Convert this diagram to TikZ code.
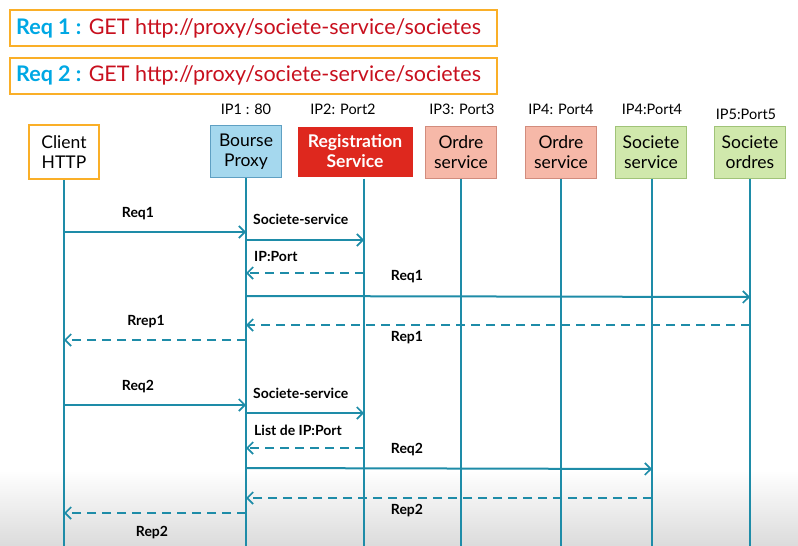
\documentclass[tikz,border=0pt]{standalone}
\usepackage{fontspec}
\setmainfont{Lato}
\usetikzlibrary{arrows.meta}
\definecolor{lifec}{RGB}{30,140,168}
\definecolor{reqcyan}{RGB}{0,168,228}
\definecolor{reqred}{RGB}{200,16,30}
\definecolor{orangeb}{RGB}{250,175,40}
\definecolor{bluef}{RGB}{165,216,238}
\definecolor{blued}{RGB}{95,160,195}
\definecolor{redf}{RGB}{222,40,30}
\definecolor{salmonf}{RGB}{246,184,168}
\definecolor{salmond}{RGB}{210,140,125}
\definecolor{greenf}{RGB}{208,232,172}
\definecolor{greend}{RGB}{160,195,120}
\begin{document}
\begin{tikzpicture}[x=1pt,y=-1pt,
  reqbox/.style={draw=orangeb,line width=2pt,minimum width=487pt,minimum height=36pt,inner sep=0pt},
  reqtext/.style={anchor=west,font=\fontsize{21.5}{21.5}\selectfont,inner sep=0pt},
  actor/.style={draw,line width=1pt,minimum width=71pt,minimum height=52pt,align=center,font=\fontsize{17.5}{20}\selectfont,inner sep=0pt},
  iplabel/.style={font=\fontsize{14.5}{14.5}\selectfont,inner sep=0pt},
  life/.style={draw=lifec,line width=2pt},
  msg/.style={draw=lifec,line width=2pt,-{Straight Barb[length=6pt,width=12pt,line width=1.7pt]}},
  ret/.style={msg,dash pattern=on 9pt off 6pt},
  mlabel/.style={font=\bfseries\fontsize{14}{14}\selectfont,inner sep=0pt},
  llabel/.style={mlabel,anchor=west}]
\useasboundingbox (0,0) rectangle (798,546);
\shade[top color=white,bottom color=black!14] (0,470) rectangle (798,546);

% request boxes
\node[reqbox] (rb1) at (253.5,28) {};
\node[reqtext] (rt1) at ([xshift=7pt]rb1.west) {\textcolor{reqcyan}{\bfseries Req 1 :} \textcolor{reqred}{GET http://proxy/societe-service/societes}};
\node[reqbox] (rb2) at (253.5,75.5) {};
\node[reqtext] (rt2) at ([xshift=7pt]rb2.west) {\textcolor{reqcyan}{\bfseries Req 2 :} \textcolor{reqred}{GET http://proxy/societe-service/societes}};

% actors
\node[actor,draw=orangeb,line width=2pt,minimum width=70pt,minimum height=54pt] (client) at (64,152) {Client\\HTTP};
\node[actor,draw=blued,fill=bluef] (proxy) at (246,151.5) {Bourse\\Proxy};
\node[actor,draw=white,line width=2pt,fill=redf,text=white,minimum width=117pt,font=\bfseries\fontsize{17.5}{20}\selectfont] (reg) at (355,151.5) {Registration\\Service};
\node[actor,draw=salmond,fill=salmonf] (ord1) at (461,152) {Ordre\\service};
\node[actor,draw=salmond,fill=salmonf] (ord2) at (561,152) {Ordre\\service};
\node[actor,draw=greend,fill=greenf] (soc1) at (651,152) {Societe\\service};
\node[actor,draw=greend,fill=greenf] (soc2) at (750,152) {Societe\\ordres};

% ip labels
\node[iplabel] (ip1) at (246,109) {IP1 : 80};
\node[iplabel] (ip2) at (343,109) {IP2: Port2};
\node[iplabel] (ip3) at (462,109) {IP3: Port3};
\node[iplabel] (ip4) at (561,109) {IP4: Port4};
\node[iplabel] (ip5) at (652,109) {IP4:Port4};
\node[iplabel] (ip6) at (746,114) {IP5:Port5};

% lifelines
\coordinate (lc) at (64,546);
\coordinate (lp) at (246,546);
\coordinate (lr) at (364,546);
\coordinate (lo1) at (461,546);
\coordinate (lo2) at (561,546);
\coordinate (ls1) at (652,546);
\coordinate (ls2) at (750,546);
\draw[life] (client.south) -- (lc);
\draw[life] (lp |- proxy.south) -- (lp);
\draw[life] (lr |- reg.south) -- (lr);
\draw[life] (lo1 |- ord1.south) -- (lo1);
\draw[life] (lo2 |- ord2.south) -- (lo2);
\draw[life] (ls1 |- soc1.south) -- (ls1);
\draw[life] (ls2 |- soc2.south) -- (ls2);

% first sequence
\draw[msg] (lc |- 0,232) -- (lp |- 0,232);
\node[mlabel] (m1) at (138,214) {Req1};
\draw[msg] (lp |- 0,240) -- (lr |- 0,240);
\node[llabel] (m2) at (253,219) {Societe-service};
\draw[ret] (lr |- 0,273) -- (lp |- 0,273);
\node[llabel] (m3) at (254,256) {IP:Port};
\draw[msg] (lp |- 0,296) -- (ls2 |- 0,297);
\node[mlabel] (m4) at (407,277) {Req1};
\draw[ret] (ls2 |- 0,325) -- (lp |- 0,325);
\node[mlabel] (m5) at (407,338) {Rep1};
\draw[ret] (lp |- 0,340) -- (lc |- 0,340);
\node[mlabel] (m6) at (146,322) {Rrep1};

% second sequence
\draw[msg] (lc |- 0,405) -- (lp |- 0,405);
\node[mlabel] (n1) at (138,387) {Req2};
\draw[msg] (lp |- 0,413) -- (lr |- 0,413);
\node[llabel] (n2) at (253,393) {Societe-service};
\draw[ret] (lr |- 0,448) -- (lp |- 0,448);
\node[llabel] (n3) at (254,430) {List de IP:Port};
\draw[msg] (lp |- 0,468) -- (ls1 |- 0,469);
\node[mlabel] (n4) at (407,450) {Req2};
\draw[ret] (ls1 |- 0,498) -- (lp |- 0,498);
\node[mlabel] (n5) at (407,511) {Rep2};
\draw[ret] (lp |- 0,513) -- (lc |- 0,513);
\node[mlabel] (n6) at (152,533) {Rep2};
\end{tikzpicture}
\end{document}
